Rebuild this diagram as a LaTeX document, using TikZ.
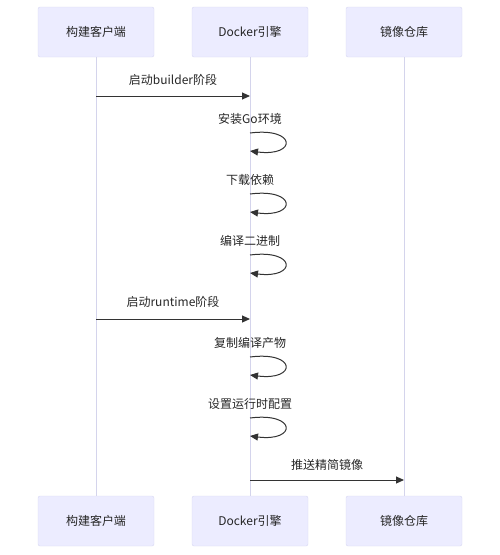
\documentclass[tikz,border=0pt]{standalone}
\usepackage{fontspec}
\setmainfont{Noto Sans CJK SC}
\usetikzlibrary{arrows.meta}
\definecolor{boxfill}{HTML}{ECECFF}
\definecolor{boxline}{HTML}{D8D8F2}
\definecolor{lifeline}{HTML}{D4D4EC}
\definecolor{msg}{HTML}{333333}
\begin{document}
\begin{tikzpicture}[x=1pt,y=-1pt,
  actor/.style={draw=boxline,fill=boxfill,rounded corners=2pt,minimum width=116pt,minimum height=50pt,inner sep=0pt,font=\fontsize{12}{14}\selectfont,text=black!85},
  lline/.style={draw=lifeline,line width=1pt},
  msgarrow/.style={draw=msg,line width=1pt,-{Triangle[length=8pt,width=7pt]}},
  lbl/.style={font=\fontsize{12}{14}\selectfont,text=black!85,inner sep=0pt}]
\useasboundingbox (0,0) rectangle (500,555);
% actors
\node[actor] (a1) at (96,32) {构建客户端};
\node[actor] (a2) at (250,32) {Docker引擎};
\node[actor] (a3) at (404,32) {镜像仓库};
\node[actor] (b1) at (96,521) {构建客户端};
\node[actor] (b2) at (250,521) {Docker引擎};
\node[actor] (b3) at (404,521) {镜像仓库};
% lifelines
\draw[lline] (a1.south) -- (b1.north);
\draw[lline] (a2.south) -- (b2.north);
\draw[lline] (a3.south) -- (b3.north);
% coordinates
\coordinate (c1) at (96,96);  \coordinate (d1) at (250,96);
\coordinate (c2) at (96,319); \coordinate (d2) at (250,319);
\coordinate (c3) at (250,480); \coordinate (d3) at (404,480);
% messages
\draw[msgarrow] (c1) -- (d1);
\node[lbl] (m1) at (173,80) {启动builder阶段};
\draw[msgarrow] (c2) -- (d2);
\node[lbl] (m5) at (173,302) {启动runtime阶段};
\draw[msgarrow] (c3) -- (d3);
\node[lbl] (m8) at (327,465) {推送精简镜像};
% self loops
\foreach \y/\t [count=\i] in {133/安装Go环境,194/下载依赖,255/编译二进制,357/复制编译产物,418/设置运行时配置}{
  \coordinate (s\i) at (250,\y);
  \coordinate (e\i) at (250,\y+18);
  \node[lbl] (l\i) at (250,\y-14) {\t};
  \draw[msgarrow] (s\i) .. controls (297,\y-6) and (297,\y+24) .. (e\i);
}
\end{tikzpicture}
\end{document}
